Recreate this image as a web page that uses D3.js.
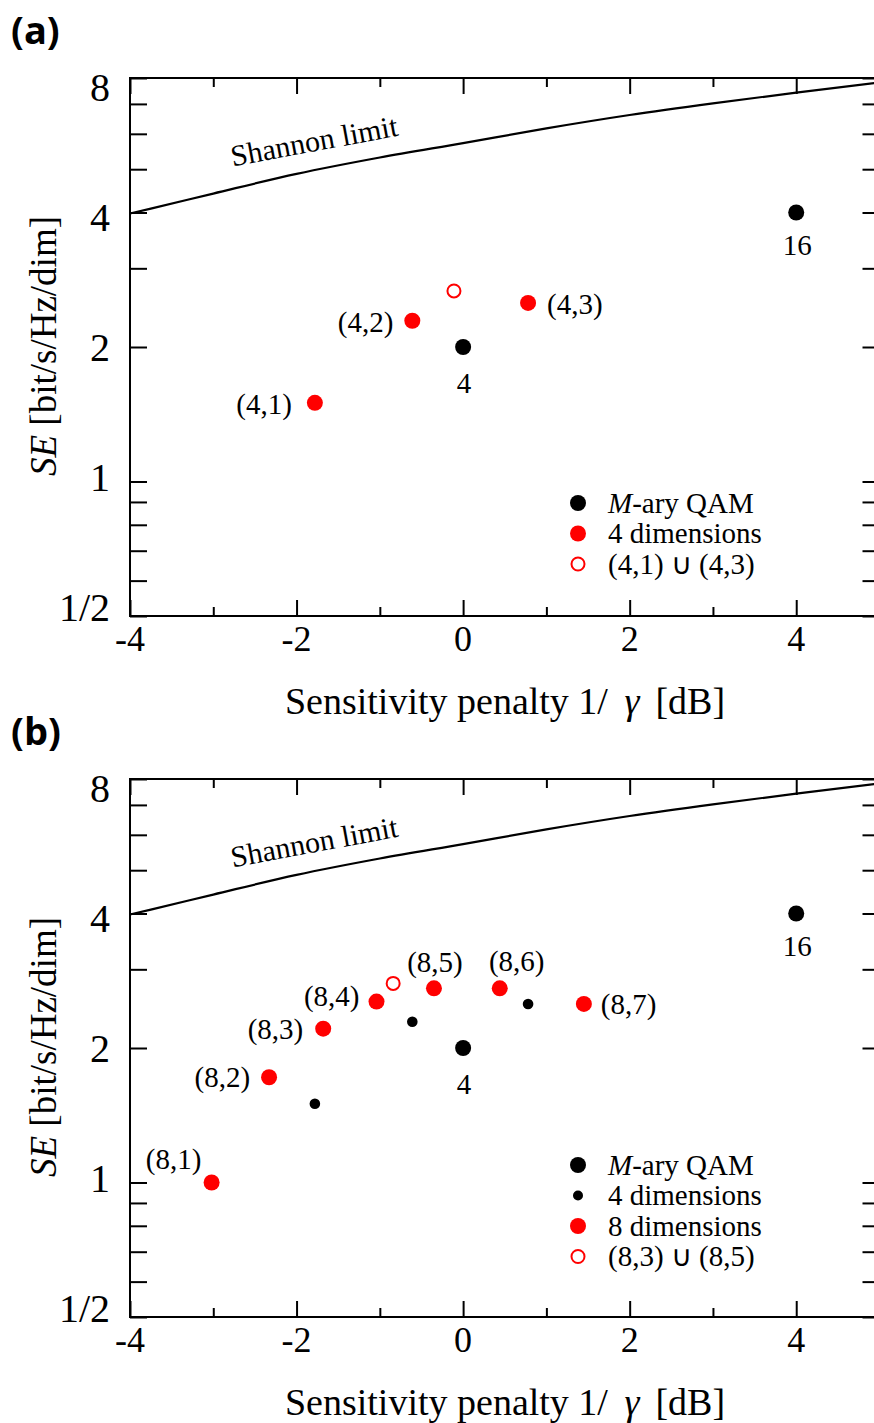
<!DOCTYPE html>
<html>
<head>
<meta charset="utf-8">
<script src="https://cdn.jsdelivr.net/npm/d3@7"></script>
<style>
  html, body { margin: 0; padding: 0; background: #fff; }
  svg { display: block; }
  text { font-family: "Liberation Serif", "Times New Roman", serif; fill: #000; }
</style>
</head>
<body>
<svg id="chart" width="874" height="1423"></svg>
<script>
// ---- axis ticks ----
const xMajorTicks = [-4, -2, 0, 2, 4];
const xMinorTicks = [-3, -1, 1, 3];
const yMajorTicks = [0.5, 1, 2, 4, 8];
const yMajorLabels = ["1/2", "1", "2", "4", "8"];
const yMinorTicks = [0.6, 0.7, 0.8, 0.9, 3, 5, 6, 7];

// ---- Shannon limit (sensitivity penalty in dB, SE) ----
const shannonPenalty = [-4, -3.75, -3, -2, -1, 0, 1, 2, 3, 4, 5];
const shannonSE = [3.98, 4.08, 4.41, 4.88, 5.31, 5.72, 6.17, 6.61, 7.02, 7.42, 7.82];

// ---- M-ary QAM ----
const qamPenalty = [0, 4];
const qamSE = [2, 4];
const qamLabels = ["4", "16"];

// ---- 4-dimensional formats ----
const dim4Penalty = [-1.78, -0.61, 0.78];
const dim4SE = [1.5, 2.29, 2.51];
const dim4Labels = ["(4,1)", "(4,2)", "(4,3)"];
const union4Penalty = [-0.11];
const union4SE = [2.67];

// ---- 8-dimensional formats ----
const dim8Penalty = [-3.02, -2.33, -1.68, -1.04, -0.35, 0.44, 1.45];
const dim8SE = [1.0, 1.72, 2.21, 2.54, 2.72, 2.72, 2.51];
const dim8Labels = ["(8,1)", "(8,2)", "(8,3)", "(8,4)", "(8,5)", "(8,6)", "(8,7)"];
const union8Penalty = [-0.84];
const union8SE = [2.79];

const RED = "#ff0000";
const SERIF = "'Liberation Serif', 'Times New Roman', serif";
const svg = d3.select("#chart");
svg.append("rect").attr("width", 874).attr("height", 1423).attr("fill", "#fff");

const zip = (xs, ys, ls) => xs.map((v, i) => ({ x: v, y: ys[i], label: ls ? ls[i] : null }));

function drawPanel(offY, tag, cfg) {
  const g = svg.append("g").style("font-family", SERIF);
  const x = d3.scaleLinear().domain([-4, 5]).range([130, 879.5]);
  const y = d3.scaleLog().base(2).domain([0.5, 8]).range([616 + offY, 78 + offY]);
  const [x0, x1] = x.range();
  const [yb, yt] = y.range();

  // panel tag
  svg.append("text").attr("x", 11).attr("y", 44 + offY)
    .style("font-family", "'Open Sans', 'Liberation Sans', sans-serif")
    .style("font-weight", "bold").style("font-size", "38px").text(tag);

  // ticks (all inward)
  const styleAxis = sel => {
    sel.selectAll("path.domain").remove();
    sel.selectAll("line").attr("stroke", "#000").attr("stroke-width", 2);
    sel.selectAll("text").remove();
  };
  g.append("g").attr("transform", `translate(0,${yb})`)
    .call(d3.axisBottom(x).tickValues(xMajorTicks).tickSize(-16).tickSizeOuter(0)).call(styleAxis);
  g.append("g").attr("transform", `translate(0,${yb})`)
    .call(d3.axisBottom(x).tickValues(xMinorTicks).tickSize(-9).tickSizeOuter(0)).call(styleAxis);
  g.append("g").attr("transform", `translate(0,${yt})`)
    .call(d3.axisTop(x).tickValues(xMajorTicks).tickSize(-16).tickSizeOuter(0)).call(styleAxis);
  g.append("g").attr("transform", `translate(0,${yt})`)
    .call(d3.axisTop(x).tickValues(xMinorTicks).tickSize(-9).tickSizeOuter(0)).call(styleAxis);
  g.append("g").attr("transform", `translate(${x0},0)`)
    .call(d3.axisLeft(y).tickValues(yMajorTicks.concat(yMinorTicks)).tickSize(-17).tickSizeOuter(0)).call(styleAxis);
  g.append("g").attr("transform", `translate(${x1},0)`)
    .call(d3.axisRight(y).tickValues(yMajorTicks.concat(yMinorTicks)).tickSize(-17).tickSizeOuter(0)).call(styleAxis);

  // frame
  g.append("rect").attr("x", x0).attr("y", yt).attr("width", x1 - x0).attr("height", yb - yt)
    .attr("fill", "none").attr("stroke", "#000").attr("stroke-width", 2);

  // tick labels
  const ymid = y(2);
  g.selectAll("text.ylab").data(yMajorTicks).join("text").attr("class", "ylab")
    .attr("x", 110).attr("y", d => y(d) + 0.035 * (ymid - y(d)))
    .attr("dy", "0.35em").attr("text-anchor", "end").style("font-size", "40px")
    .text((d, i) => yMajorLabels[i]);
  g.selectAll("text.xlab").data(xMajorTicks).join("text").attr("class", "xlab")
    .attr("x", d => x(d)).attr("y", yb + 35).attr("text-anchor", "middle")
    .style("font-size", "36px").text(d => d < 0 ? "-" + Math.abs(d) : String(d));

  // axis titles
  const xt = g.append("text").attr("x", 505).attr("y", yb + 98).attr("text-anchor", "middle")
    .style("font-size", "38px");
  xt.append("tspan").text("Sensitivity penalty 1/ ");
  xt.append("tspan").style("font-style", "italic").attr("dx", 7).text("\u03b3");
  xt.append("tspan").attr("dx", 16).text("[dB]");

  const yTitle = g.append("text")
    .attr("transform", `translate(56,${ymid - 1}) rotate(-90)`)
    .attr("text-anchor", "middle").style("font-size", "37px");
  yTitle.append("tspan").style("font-style", "italic").text("SE");
  yTitle.append("tspan").text(" [bit/s/Hz/dim]");

  // Shannon limit
  const line = d3.line().x(d => x(d.x)).y(d => y(d.y)).curve(d3.curveMonotoneX);
  g.append("path").datum(zip(shannonPenalty, shannonSE)).attr("d", line)
    .attr("fill", "none").attr("stroke", "#000").attr("stroke-width", 2.2);
  g.append("text").attr("transform", `translate(316,${151 + offY}) rotate(-10.5)`)
    .attr("text-anchor", "middle").style("font-size", "30px").text("Shannon limit");

  // points
  cfg.layers.forEach(L => {
    const data = zip(L.px, L.py, L.labels);
    const sel = g.selectAll(null).data(data).join("circle")
      .attr("cx", d => x(d.x)).attr("cy", d => y(d.y)).attr("r", L.r);
    if (L.open) sel.attr("fill", "#fff").attr("stroke", L.color).attr("stroke-width", 2);
    else sel.attr("fill", L.color);
    if (L.labels) {
      g.selectAll(null).data(data).join("text")
        .attr("x", (d, i) => x(d.x) + L.place[i][1])
        .attr("y", (d, i) => y(d.y) + L.place[i][2])
        .attr("text-anchor", (d, i) => L.place[i][0])
        .style("font-size", "29px").text(d => d.label);
    }
  });

  // legend
  const lg = g.append("g");
  cfg.legend.forEach((item, i) => {
    const cy = cfg.legendY + offY + i * 30.5;
    const c = lg.append("circle").attr("cx", 578).attr("cy", cy).attr("r", item.r);
    if (item.open) c.attr("fill", "#fff").attr("stroke", item.color).attr("stroke-width", 2);
    else c.attr("fill", item.color);
    const t = lg.append("text").attr("x", 608).attr("y", cy).attr("dy", "0.33em").style("font-size", "29px");
    item.text.forEach(part => t.append("tspan").style("font-style", part.italic ? "italic" : "normal").text(part.t));
  });
}

const qamPlace = [["middle", 1, 46], ["middle", 1, 42]];

drawPanel(0, "(a)", {
  layers: [
    { px: qamPenalty, py: qamSE, labels: qamLabels, r: 8, color: "#000", place: qamPlace },
    { px: dim4Penalty, py: dim4SE, labels: dim4Labels, r: 8, color: RED,
      place: [["end", -23, 11], ["end", -19, 11], ["start", 19, 11]] },
    { px: union4Penalty, py: union4SE, r: 6.5, color: RED, open: true }
  ],
  legendY: 503,
  legend: [
    { r: 8, color: "#000", text: [{ t: "M", italic: true }, { t: "-ary QAM" }] },
    { r: 8, color: RED, text: [{ t: "4 dimensions" }] },
    { r: 6.5, color: RED, open: true, text: [{ t: "(4,1) \u222a (4,3)" }] }
  ]
});

drawPanel(701, "(b)", {
  layers: [
    { px: qamPenalty, py: qamSE, labels: qamLabels, r: 8, color: "#000", place: qamPlace },
    { px: dim4Penalty, py: dim4SE, r: 5.3, color: "#000" },
    { px: dim8Penalty, py: dim8SE, labels: dim8Labels, r: 8, color: RED,
      place: [["middle", -38, -14], ["end", -19, 10], ["end", -20, 10], ["end", -17, 4],
              ["middle", 1, -16], ["middle", 17, -17], ["start", 17, 10]] },
    { px: union8Penalty, py: union8SE, r: 6.5, color: RED, open: true }
  ],
  legendY: 1165 - 701,
  legend: [
    { r: 8, color: "#000", text: [{ t: "M", italic: true }, { t: "-ary QAM" }] },
    { r: 5, color: "#000", text: [{ t: "4 dimensions" }] },
    { r: 8, color: RED, text: [{ t: "8 dimensions" }] },
    { r: 6.5, color: RED, open: true, text: [{ t: "(8,3) \u222a (8,5)" }] }
  ]
});
</script>
</body>
</html>
